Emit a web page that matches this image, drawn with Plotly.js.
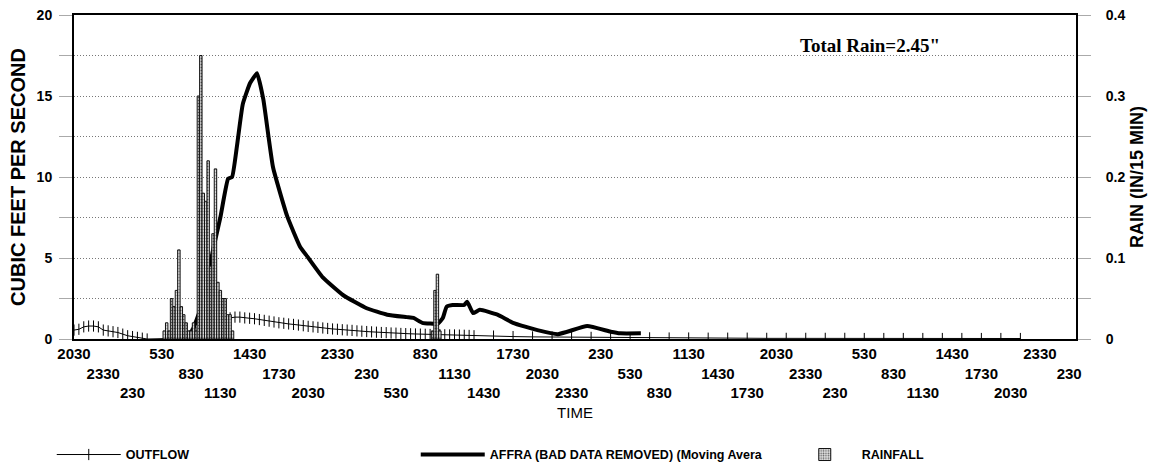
<!DOCTYPE html>
<html>
<head>
<meta charset="utf-8">
<script src="https://cdn.plot.ly/plotly-3.0.1.min.js"></script>
<style>
  html, body { margin: 0; padding: 0; background: #fff; }
  #chart { width: 1150px; height: 468px; }
</style>
</head>
<body>
<div id="chart"></div>
<script>
// ---- DATA (x = hours after 20:30 on day 1) ----
const tickHours = [0,3,6,9,12,15,18,21,24,27,30,33,36,39,42,45,48,51,54,57,60,63,66,69,72,75,78,81,84,87,90,93,96,99,102];
const tickLabels = ["2030","2330","230","530","830","1130","1430","1730","2030","2330","230","530","830","1130","1430","1730","2030","2330","230","530","830","1130","1430","1730","2030","2330","230","530","830","1130","1430","1730","2030","2330","230"];

// Rainfall, inches per 15 min
const rainHours = [9.25,9.5,9.75,10.0,10.25,10.5,10.75,11.0,11.25,11.5,11.75,12.0,12.25,12.5,
                   12.75,13.0,13.25,13.5,13.75,14.0,14.25,14.5,14.75,15.0,15.25,15.5,15.75,16.0,16.25,
                   36.75,37.0,37.25,37.5];
const rainIn =    [0.01,0.02,0.01,0.05,0.04,0.06,0.11,0.04,0.03,0.02,0.01,0.01,0.02,0.01,
                   0.30,0.35,0.18,0.17,0.22,0.09,0.13,0.21,0.07,0.06,0.05,0.05,0.03,0.03,0.01,
                   0.01,0.06,0.08,0.01];

// Outflow, cfs
const outflowHours = [0,0.5,1,1.5,2,2.5,3,3.5,4,4.5,5,5.5,6,6.5,7,7.5,
  11,11.5,12,12.5,13,13.5,14,14.5,15,15.5,16,16.5,17,17.5,18,18.5,19,19.5,20,20.5,
  21,21.5,22,22.5,23,23.5,24,24.5,25,25.5,26,26.5,27,27.5,28,28.5,29,29.5,30,30.5,
  31,31.5,32,32.5,33,33.5,34,34.5,35,35.5,36,36.5,37,37.5,38,38.5,39,39.5,40,40.5,41,
  43,45,47,49,51,53,55,57,59,61,63,65,67,69,71,73,75,77,79,81,83,85,87,89,91,93,95,97,99,101];
const outflowCfs = [0.55,0.6,0.75,0.8,0.8,0.75,0.55,0.5,0.45,0.4,0.3,0.2,0.15,0.1,0.05,0,
  0.05,0.15,0.3,0.4,0.5,0.65,0.8,0.95,1.1,1.2,1.3,1.35,1.35,1.3,1.28,1.25,1.2,1.15,1.1,1.05,
  1.0,0.97,0.93,0.9,0.86,0.82,0.78,0.75,0.72,0.68,0.65,0.62,0.6,0.57,0.55,0.53,0.5,0.48,0.46,0.44,
  0.42,0.4,0.39,0.37,0.36,0.34,0.33,0.32,0.31,0.3,0.29,0.28,0.27,0.27,0.26,0.25,0.25,0.24,0.23,0.22,0.2,
  0.18,0.15,0.13,0.12,0.1,0.1,0.09,0.08,0.07,0.06,0.06,0.05,0.05,0.05,0.04,0.04,0.04,0.04,0.04,0.03,0.03,0.03,0.03,0.03,0.03,0.03,0.03,0.03];

// AFFRA (bad data removed, moving average), cfs
const affraHours = [11.4,12.1,13.2,14.25,15.0,15.8,16.2,16.7,17.3,18.05,18.76,19.4,20.4,21.84,23.17,23.9,25.5,27.6,30.0,32.1,34.1,34.8,35.7,37.3,37.8,38.2,38.8,40.0,40.3,40.9,41.6,43.4,45.0,47.5,49.6,52.6,55.0,56.0,58.1];
const affraCfs =   [0.2,0.5,2.3,5.5,7.5,9.9,10.0,11.9,14.5,15.8,16.4,14.8,10.6,7.6,5.7,5.1,3.8,2.7,1.9,1.5,1.35,1.3,1.0,0.95,1.3,2.0,2.1,2.1,2.3,1.6,1.8,1.5,1.0,0.55,0.3,0.8,0.45,0.35,0.35];

const yTickVals = [0,2.5,5,7.5,10,12.5,15,17.5,20];
const yTickText = ["0","","5","","10","","15","","20"];
const y2TickVals = [0,0.05,0.1,0.15,0.2,0.25,0.3,0.35,0.4];
const y2TickText = ["0","","0.1","","0.2","","0.3","","0.4"];

// ---- build staggered tick labels (three rows) ----
const NB = "\u00a0";
const staggered = tickLabels.map((t, i) => {
  const row = i % 3;
  return (row === 0 ? "" : row === 1 ? NB + "<br>" : NB + "<br>" + NB + "<br>") + t;
});

const FONT = "Liberation Sans, Arial, sans-serif";
const LEGFONT = { family: FONT, size: 12.5, weight: "bold", color: "#000" };

const traces = [
  {
    type: "bar", name: "RAINFALL", x: rainHours, y: rainIn, yaxis: "y2",
    width: 0.25, legend: "legend2",
    marker: { color: "#d0d0d0", line: { color: "#111", width: 1 },
              pattern: { shape: ".", fgcolor: "#555", bgcolor: "#e4e4e4", size: 3, solidity: 0.35 } }
  },
  {
    type: "scatter", mode: "lines+markers", name: "OUTFLOW", x: outflowHours, y: outflowCfs,
    line: { color: "#000", width: 1 },
    marker: { symbol: "line-ns-open", size: 8, color: "#000", line: { color: "#000", width: 1 } },
    legendrank: 1
  },
  {
    type: "scatter", mode: "lines", name: "AFFRA (BAD DATA REMOVED) (Moving Avera", x: affraHours, y: affraCfs,
    line: { color: "#000", width: 4, shape: "spline", smoothing: 0.4 },
    legendrank: 2
  }
];

const layout = {
  width: 1150, height: 468,
  margin: { l: 74, r: 74, t: 15, b: 129, autoexpand: false },
  paper_bgcolor: "#fff", plot_bgcolor: "#fff",
  showlegend: true,
  bargap: 0,
  font: { family: FONT, color: "#000" },
  xaxis: {
    range: [0, 102.7], tickvals: tickHours, ticktext: staggered,
    ticks: "", showgrid: false, zeroline: false,
    showline: true, mirror: true, linecolor: "#000", linewidth: 2,
    tickfont: { family: FONT, size: 15, weight: "bold", color: "#000" },
    tickangle: 0,
    title: { text: "TIME", font: { family: FONT, size: 15, color: "#000" }, standoff: 7 },
    automargin: false
  },
  yaxis: {
    range: [0, 20], tickvals: yTickVals, ticktext: yTickText,
    ticks: "outside", ticklen: 13, tickcolor: "#aaa", tickwidth: 1, ticklabelstandoff: 4,
    showgrid: true, gridcolor: "#777", griddash: "1px,2px", gridwidth: 1,
    zeroline: false, showline: true, linecolor: "#000", linewidth: 2,
    tickfont: { family: FONT, size: 14, weight: "bold", color: "#000" },
    title: { text: "CUBIC FEET PER SECOND", font: { family: FONT, size: 20, weight: "bold", color: "#000" }, standoff: 6 },
    automargin: false
  },
  yaxis2: {
    overlaying: "y", side: "right", range: [0, 0.4],
    tickvals: y2TickVals, ticktext: y2TickText,
    ticks: "outside", ticklen: 13, tickcolor: "#aaa", tickwidth: 1, ticklabelstandoff: 12,
    showgrid: false, zeroline: false, showline: true, linecolor: "#000", linewidth: 2,
    tickfont: { family: FONT, size: 14, weight: "bold", color: "#000" },
    title: { text: "RAIN (IN/15 MIN)", font: { family: FONT, size: 18, weight: "bold", color: "#000" }, standoff: 6 },
    automargin: false
  },
  legend: {
    orientation: "h", xref: "container", yref: "container",
    x: 0.045, y: 0.028, xanchor: "left", yanchor: "middle",
    itemwidth: 64, entrywidthmode: "pixels", entrywidth: 285,
    font: LEGFONT, bgcolor: "rgba(0,0,0,0)"
  },
  legend2: {
    orientation: "h", xref: "container", yref: "container",
    x: 0.685, y: 0.028, xanchor: "left", yanchor: "middle",
    itemwidth: 64, font: LEGFONT, bgcolor: "rgba(0,0,0,0)"
  },
  annotations: [{
    xref: "paper", yref: "paper", x: 0.794, y: 0.907, xanchor: "center", yanchor: "middle",
    text: "Total Rain=2.45\"", showarrow: false,
    font: { family: "Liberation Serif, Times New Roman, serif", size: 19, weight: "bold", color: "#000" }
  }]
};

Plotly.newPlot("chart", traces, layout, { displayModeBar: false, staticPlot: true });
</script>
</body>
</html>
